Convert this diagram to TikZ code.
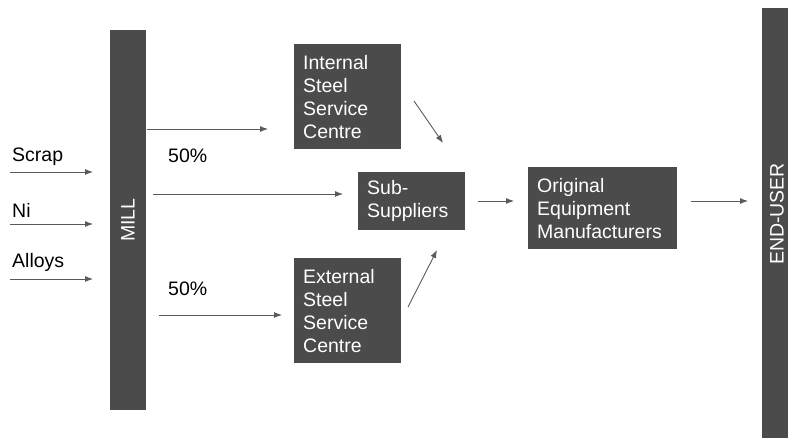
\documentclass[tikz,border=0pt]{standalone}
\usepackage{fontspec}
\setmainfont{Liberation Sans}
\usetikzlibrary{arrows.meta}
\definecolor{boxgray}{HTML}{4B4B4B}
\definecolor{arrgray}{HTML}{5A5A5A}
\begin{document}
\begin{tikzpicture}[x=1pt,y=-1pt,
  every node/.style={font=\fontsize{19.5}{23}\selectfont},
  box/.style={fill=boxgray,text=white,align=left,inner xsep=9pt,inner ysep=0pt,anchor=north west},
  bar/.style={fill=boxgray,draw=none},
  arr/.style={draw=arrgray,line width=0.9pt,-{Latex[length=8pt,width=6pt]}},
  lbl/.style={text=black,anchor=west,inner sep=0pt}]
\useasboundingbox (0,0) rectangle (788,438);
% bars
\node[bar,minimum width=26pt,minimum height=430pt,inner sep=0pt,anchor=north west] (end) at (762,8) {};
\node[bar,minimum width=36pt,minimum height=380pt,inner sep=0pt,anchor=north west] (mill) at (110,30) {};
\node[text=white,rotate=90,inner sep=0pt] (milltxt) at (128,220) {MILL};
\node[text=white,rotate=90,inner sep=0pt] (endtxt) at (777,214) {END-USER};
% boxes
\node[box,minimum width=107pt,minimum height=105pt,text width=89pt] (int) at (294,44) {Internal\\Steel\\Service\\Centre};
\node[box,minimum width=107pt,minimum height=105pt,text width=89pt] (ext) at (294,258) {External\\Steel\\Service\\Centre};
\node[box,minimum width=107pt,minimum height=58pt,text width=89pt] (sub) at (358,172) {Sub-\\Suppliers};
\node[box,minimum width=149pt,minimum height=82pt,text width=131pt] (oem) at (528,167) {Original\\Equipment\\Manufacturers};
% inputs
\node[lbl] (scrap) at (12,157) {Scrap};
\node[lbl] (ni) at (12,210) {Ni};
\node[lbl] (alloys) at (12,262) {Alloys};
\coordinate (s0) at (10,172); \coordinate (s1) at (93,172);
\coordinate (n0) at (10,224); \coordinate (n1) at (93,224);
\coordinate (a0) at (10,279); \coordinate (a1) at (93,279);
\draw[arr] (s0) -- (s1);
\draw[arr] (n0) -- (n1);
\draw[arr] (a0) -- (a1);
% mill outputs
\coordinate (m1) at (147,129); \coordinate (i1) at (268,129);
\coordinate (m2) at (153,194); \coordinate (u1) at (343,194);
\coordinate (m3) at (159,315); \coordinate (e1) at (282,315);
\draw[arr] (m1) -- (i1);
\draw[arr] (m2) -- (u1);
\draw[arr] (m3) -- (e1);
\node[lbl] (p1) at (168,156) {50\%};
\node[lbl] (p2) at (168,289) {50\%};
% diagonals
\coordinate (d1) at (414,101); \coordinate (d2) at (443,143);
\coordinate (d3) at (408,307); \coordinate (d4) at (437,250);
\draw[arr] (d1) -- (d2);
\draw[arr] (d3) -- (d4);
% to OEM and end user
\coordinate (o0) at (478,201); \coordinate (o1) at (514,201);
\coordinate (q0) at (691,201); \coordinate (q1) at (748,201);
\draw[arr] (o0) -- (o1);
\draw[arr] (q0) -- (q1);
\end{tikzpicture}
\end{document}
